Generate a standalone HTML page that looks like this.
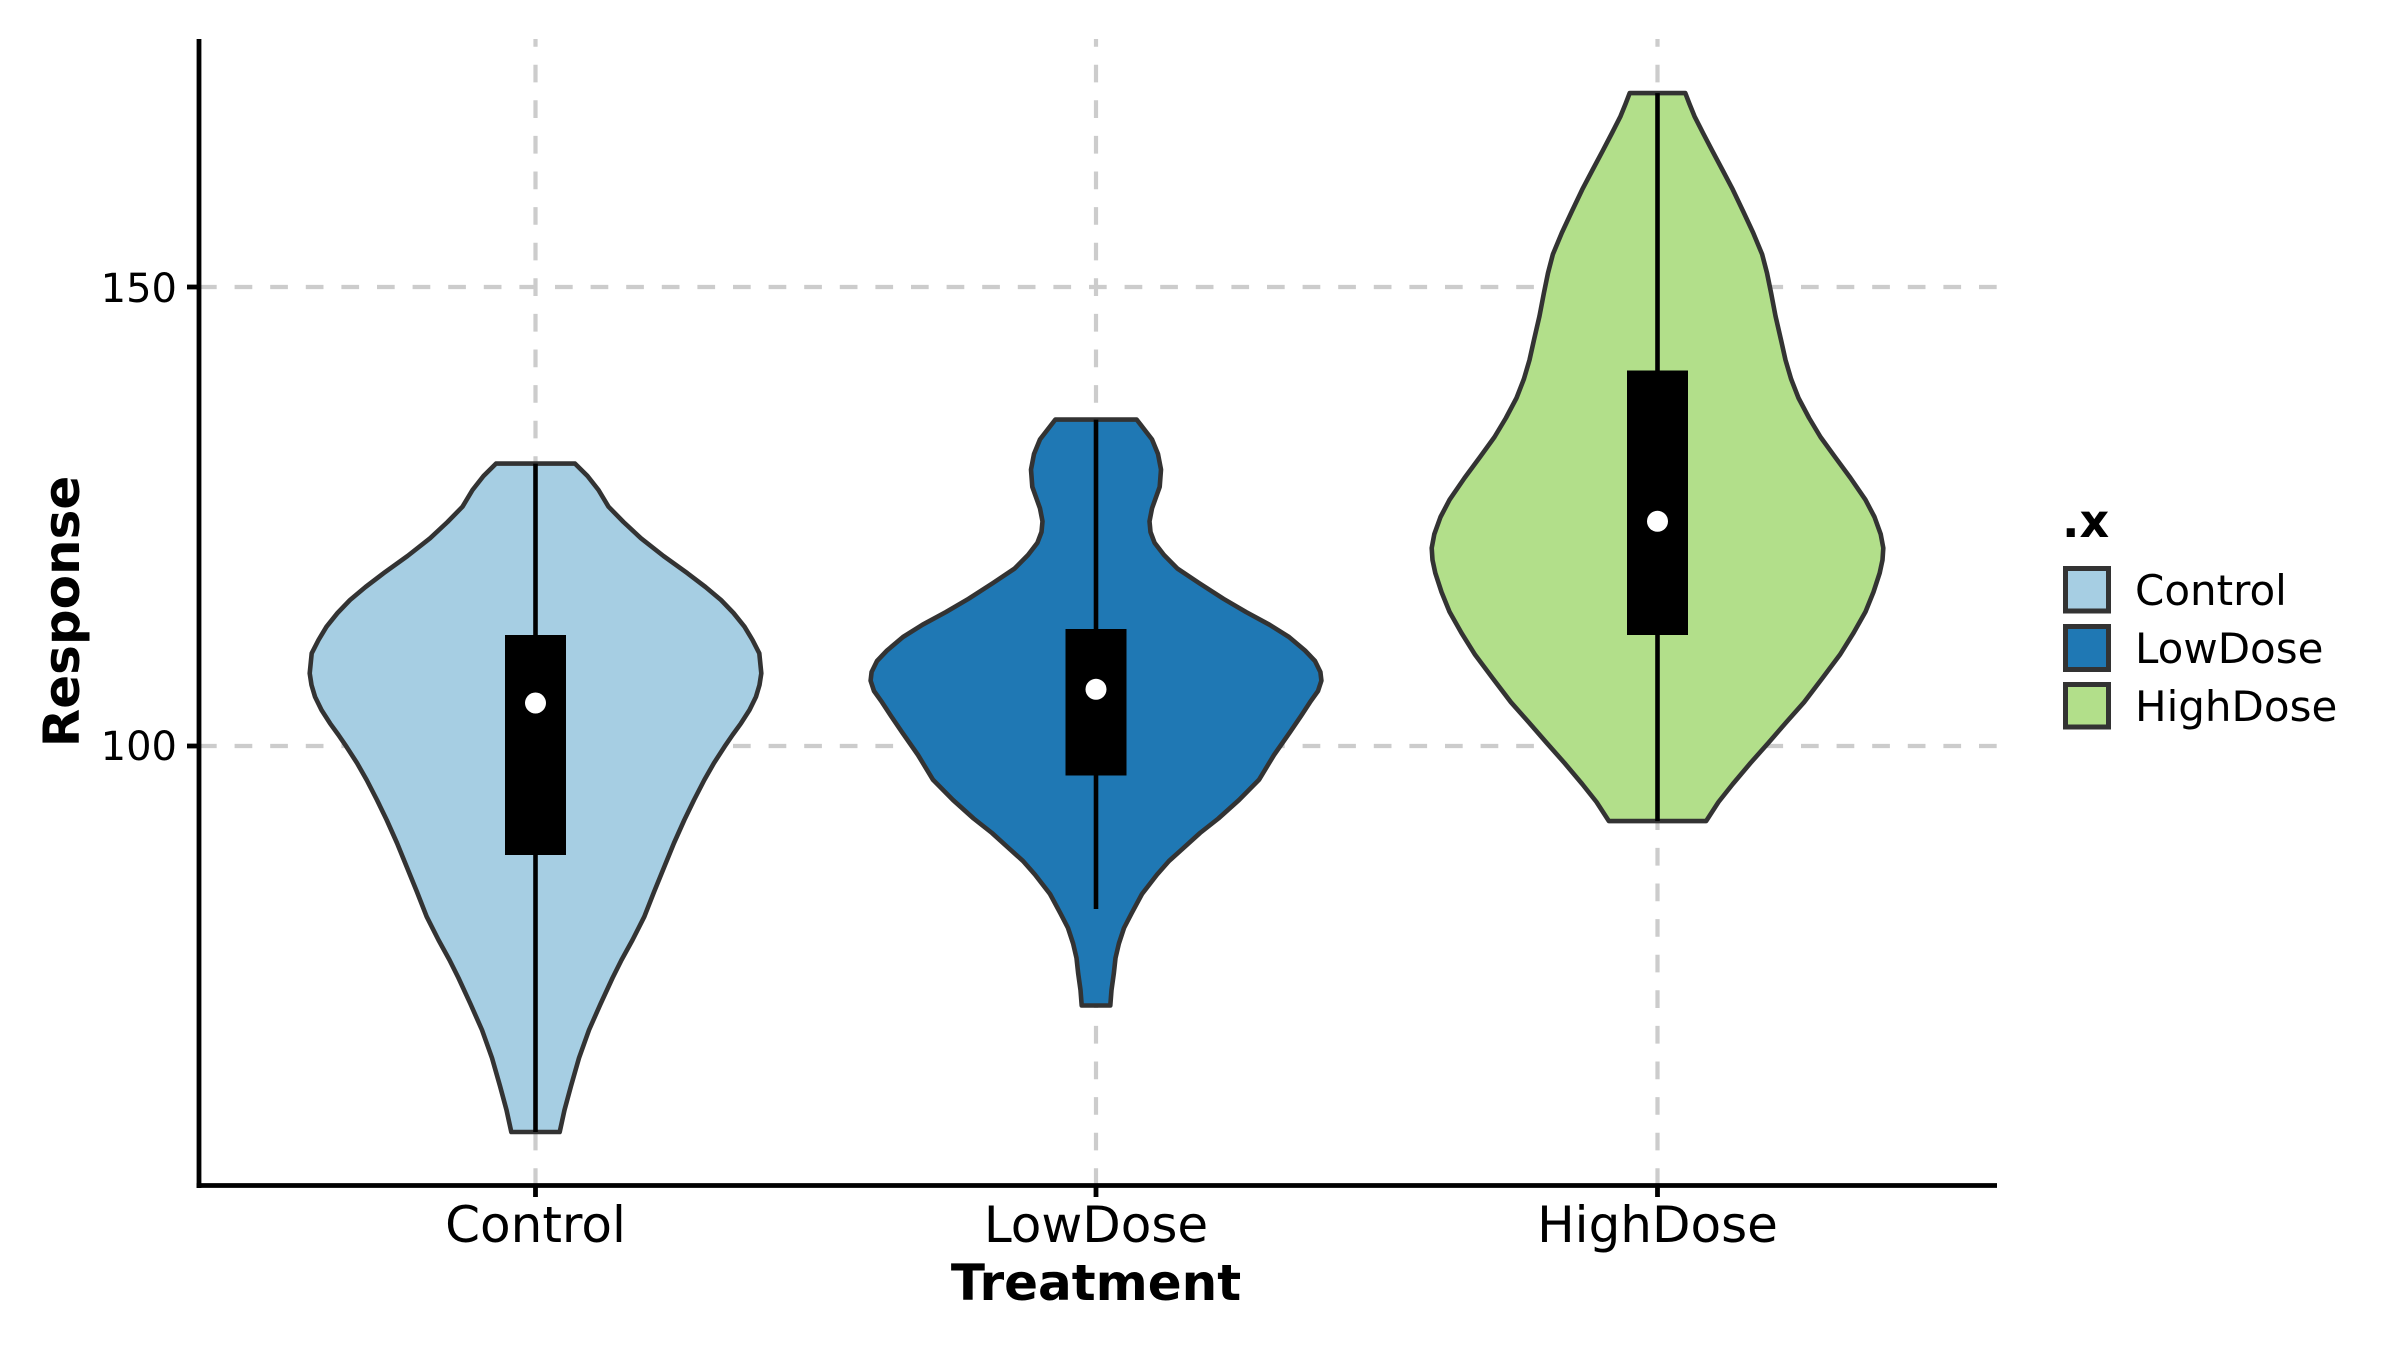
<!DOCTYPE html>
<html>
<head>
<meta charset="utf-8">
<style>
html,body{margin:0;padding:0;background:#fff;}
svg{display:block;}
text{font-family:"DejaVu Sans","Liberation Sans",sans-serif;fill:#000;}
</style>
</head>
<body>
<svg width="2400" height="1351" viewBox="0 0 2400 1351" xmlns="http://www.w3.org/2000/svg">
<rect x="0" y="0" width="2400" height="1351" fill="#fff"/>

<!-- grid lines -->
<g stroke="#cccccc" stroke-width="4.2" stroke-dasharray="17.7 17.9" fill="none">
  <line x1="199" y1="287" x2="1997" y2="287"/>
  <line x1="199" y1="746" x2="1997" y2="746"/>
  <line x1="535.5" y1="1186" x2="535.5" y2="39"/>
  <line x1="1096" y1="1186" x2="1096" y2="39"/>
  <line x1="1657.5" y1="1186" x2="1657.5" y2="39"/>
</g>

<!-- Control violin -->
<path fill="#a6cee3" stroke="#333333" stroke-width="4.6" stroke-linejoin="round" d="
M496,463.6 L575,463.6
L587.5,476 L598.5,490 L608.5,506.7 L623.5,522 L641,538.3 L663.5,556 L687.5,573.3 L705.5,587 L721,600 L733.5,613 L744.5,626.7 L752.5,640 L759.3,653.3 L761.3,673.3 L759.5,685 L756,696.7 L749.5,710 L741,723.3 L732.5,735 L724.5,746.7 L714,763 L704.3,780 L694,800 L684.3,820 L674,843 L664.3,866.7 L654,892 L644.3,916.7 L632.5,940 L621.5,960 L612.5,978 L600.5,1004 L589,1030 L579,1058 L571,1086 L564.5,1110 L559.7,1132
L511.3,1132
L506.5,1110 L500,1086 L492,1058 L482,1030 L470.5,1004 L458.5,978 L449.5,960 L438.5,940 L426.7,916.7 L417,892 L406.7,866.7 L397,843 L386.7,820 L377,800 L366.7,780 L357,763 L346.5,746.7 L338.5,735 L330,723.3 L321.5,710 L315,696.7 L311.5,685 L309.7,673.3 L311.7,653.3 L318.5,640 L326.5,626.7 L337.5,613 L350,600 L365.5,587 L383.5,573.3 L407.5,556 L430,538.3 L447.5,522 L462.5,506.7 L472.5,490 L483.5,476 Z"/>

<!-- LowDose violin -->
<path fill="#1f78b4" stroke="#333333" stroke-width="4.6" stroke-linejoin="round" d="
M1055.3,419.6 L1136.7,419.6
L1152,439.4 L1158,454 L1161,469.6 L1159.7,486.8 L1155,500 L1152,508.4 L1149.5,521.3 L1150.5,532 L1154.6,542.8 L1164,555 L1177.6,568.7 L1199,583 L1223.5,598.8 L1246,612 L1269.4,624.7 L1289,637 L1305,650.5 L1315,661 L1320.4,672 L1321.4,680.7 L1318,691 L1310,702.2 L1301,716 L1289.8,732.4 L1274,755 L1259,779.8 L1239,800 L1218.4,818.5 L1200,833 L1182.7,848.7 L1169,861 L1157,874.6 L1142,894 L1131.6,913.3 L1124,928 L1118.9,943.5 L1115.5,958 L1113.8,973.6 L1111.5,990 L1110.3,1005.5
L1081.7,1005.5
L1080.5,990 L1078.2,973.6 L1076.5,958 L1073.1,943.5 L1068,928 L1060.4,913.3 L1050,894 L1035,874.6 L1023,861 L1009.3,848.7 L992,833 L973.6,818.5 L953,800 L933,779.8 L918,755 L902.2,732.4 L891,716 L882,702.2 L874,691 L870.6,680.7 L871.6,672 L877,661 L887,650.5 L903,637 L922.6,624.7 L946,612 L968.5,598.8 L993,583 L1014.4,568.7 L1028,555 L1037.4,542.8 L1041.5,532 L1042.5,521.3 L1040,508.4 L1037,500 L1032.3,486.8 L1031,469.6 L1034,454 L1040,439.4 Z"/>

<!-- HighDose violin -->
<path fill="#b2df8a" stroke="#333333" stroke-width="4.6" stroke-linejoin="round" d="
M1629.7,93.1 L1685.3,93.1
L1689.5,104 L1694.5,116.3 L1703,133 L1712.3,150.8 L1722.5,170 L1732.8,189.6 L1743,211 L1753.1,232.6 L1762.1,254.2 L1767,273 L1771.1,293 L1775.5,316 L1781.1,340.3 L1785.5,360 L1791.1,379 L1798.5,398 L1809.1,418 L1820.5,437 L1834.8,456.7 L1850.5,478 L1865.4,499.7 L1874.5,517 L1880.7,534.2 L1883.3,548 L1882.5,560 L1879.7,573 L1873.5,592 L1865.5,611.7 L1853.5,633 L1839.9,654.8 L1822.5,678 L1804.1,702.2 L1786.5,722 L1768.5,742.7 L1750.5,763 L1732.8,784 L1718.5,802 L1706.1,821.1
L1608.9,821.1
L1596.5,802 L1582.2,784 L1564.5,763 L1546.5,742.7 L1528.5,722 L1510.9,702.2 L1492.5,678 L1475.1,654.8 L1461.5,633 L1449.5,611.7 L1441.5,592 L1435.3,573 L1432.5,560 L1431.7,548 L1434.3,534.2 L1440.5,517 L1449.6,499.7 L1464.5,478 L1480.2,456.7 L1494.5,437 L1505.9,418 L1516.5,398 L1523.9,379 L1529.5,360 L1533.9,340.3 L1539.5,316 L1543.9,293 L1548,273 L1552.9,254.2 L1561.9,232.6 L1572,211 L1582.2,189.6 L1592.5,170 L1602.7,150.8 L1612,133 L1620.5,116.3 L1625.5,104 Z"/>

<!-- inner boxplots -->
<g stroke="#000" stroke-width="4.6">
  <line x1="535.5" y1="463.6" x2="535.5" y2="1132"/>
  <line x1="1096" y1="419.6" x2="1096" y2="909"/>
  <line x1="1657.5" y1="93.1" x2="1657.5" y2="821.1"/>
</g>
<g fill="#000">
  <rect x="505" y="635" width="61" height="220"/>
  <rect x="1065.5" y="629" width="61" height="146.5"/>
  <rect x="1627" y="370.5" width="61" height="264.5"/>
</g>
<g fill="#fff">
  <circle cx="535.5" cy="703" r="10.5"/>
  <circle cx="1096" cy="689.3" r="10.5"/>
  <circle cx="1657.5" cy="521.3" r="10.5"/>
</g>

<!-- axes -->
<g stroke="#000" stroke-width="4.8" fill="none">
  <line x1="199" y1="39" x2="199" y2="1188"/>
  <line x1="196.6" y1="1185.5" x2="1997" y2="1185.5"/>
  <line x1="187" y1="287" x2="199" y2="287"/>
  <line x1="187" y1="746" x2="199" y2="746"/>
  <line x1="535.5" y1="1185.5" x2="535.5" y2="1197"/>
  <line x1="1096" y1="1185.5" x2="1096" y2="1197"/>
  <line x1="1657.5" y1="1185.5" x2="1657.5" y2="1197"/>
</g>

<!-- tick labels -->
<g font-size="40" text-anchor="end">
  <text x="177" y="302">150</text>
  <text x="177" y="760">100</text>
</g>
<g font-size="50" text-anchor="middle">
  <text x="535.5" y="1242">Control</text>
  <text x="1096" y="1242">LowDose</text>
  <text x="1657.5" y="1242">HighDose</text>
</g>

<!-- axis titles -->
<text x="1096" y="1300" font-size="50" font-weight="bold" text-anchor="middle">Treatment</text>
<text transform="translate(79,611.5) rotate(-90)" font-size="50" font-weight="bold" text-anchor="middle">Response</text>

<!-- legend -->
<text x="2062" y="537" font-size="46" font-weight="bold">.x</text>
<g stroke="#333333" stroke-width="5">
  <rect x="2065.5" y="568.5" width="43" height="42.5" fill="#a6cee3"/>
  <rect x="2065.5" y="626.5" width="43" height="43" fill="#1f78b4"/>
  <rect x="2065.5" y="684.5" width="43" height="42.5" fill="#b2df8a"/>
</g>
<g font-size="42">
  <text x="2135" y="605">Control</text>
  <text x="2135" y="663">LowDose</text>
  <text x="2135" y="721">HighDose</text>
</g>
</svg>
</body>
</html>
